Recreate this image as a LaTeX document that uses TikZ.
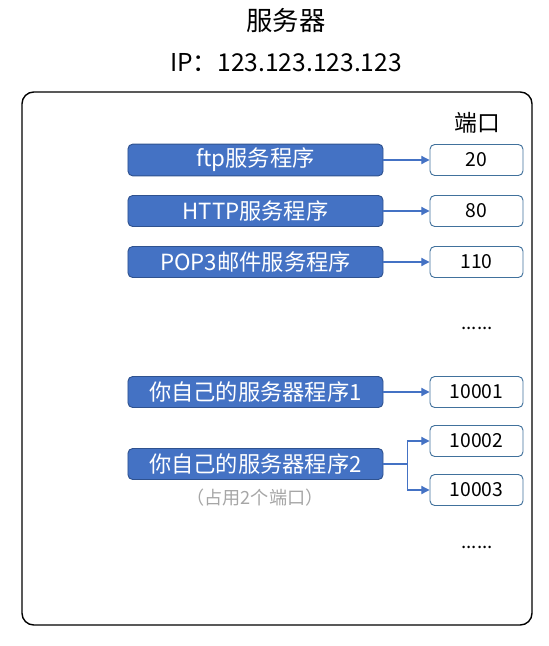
\documentclass[tikz,border=0pt]{standalone}
\usepackage{fontspec}
\newfontfamily\cjk{Noto Sans CJK SC}
\usetikzlibrary{arrows.meta}
\definecolor{progblue}{HTML}{4472C4}
\definecolor{progedge}{HTML}{2F528F}
\definecolor{portedge}{HTML}{41719C}

\begin{document}
\begin{tikzpicture}[x=0.03cm,y=-0.03cm,
	prog/.style={fill=progblue,draw=progedge,line width=0.8pt,rounded corners=4pt,
		minimum width=7.65cm,minimum height=0.93cm,text=white,font=\cjk\fontsize{19}{22}\selectfont},
	port/.style={fill=white,draw=portedge,line width=0.8pt,rounded corners=4pt,
		minimum width=2.79cm,minimum height=0.93cm,font=\cjk\fontsize{16.5}{19}\selectfont},
	link/.style={-{Triangle[length=7pt,width=7pt]},draw=progblue,line width=1pt}]
	\useasboundingbox (0,0) rectangle (548,646);
	
	% title
	\node (title) at (286,20) {\cjk\fontsize{22.5}{26}\selectfont 服务器};
	\node (ip) at (286,63) {\cjk\fontsize{21}{24}\selectfont IP：123.123.123.123};
	
	% server frame
	\draw[line width=1.2pt,rounded corners=10pt] (22,92) rectangle (532,625);
	\node (porthead) at (477,123) {\cjk\fontsize{19.5}{22}\selectfont 端口};
	
	% programs
	\node[prog] (ftp) at (255.5,160) {ftp服务程序};
	\node[prog] (http) at (255.5,211) {HTTP服务程序};
	\node[prog] (pop) at (255.5,262) {POP3邮件服务程序};
	\node[prog] (own1) at (255.5,392) {你自己的服务器程序1};
	\node[prog] (own2) at (255.5,464) {你自己的服务器程序2};
	\node[text=black!35] (note) at (255,498) {\cjk\fontsize{15.5}{18}\selectfont （占用2个端口）};
	
	% ports
	\node[port] (p20) at (476.5,160) {20};
	\node[port] (p80) at (476.5,211) {80};
	\node[port] (p110) at (476.5,262) {110};
	\node (dots1) at (477,328) {\cjk\fontsize{16}{18}\selectfont ......};
	\node[port] (p10001) at (476.5,392) {10001};
	\node[port] (p10002) at (476.5,441) {10002};
	\node[port] (p10003) at (476.5,490) {10003};
	\node (dots2) at (477,547) {\cjk\fontsize{16}{18}\selectfont ......};
	
	% links
	\draw[link] (ftp) -- (p20);
	\draw[link] (http) -- (p80);
	\draw[link] (pop) -- (p110);
	\draw[link] (own1) -- (p10001);
	\draw[link] (own2.east) -- ++(24,0) |- (p10002.west);
	\draw[link] (own2.east) -- ++(24,0) |- (p10003.west);
\end{tikzpicture}
\end{document}
